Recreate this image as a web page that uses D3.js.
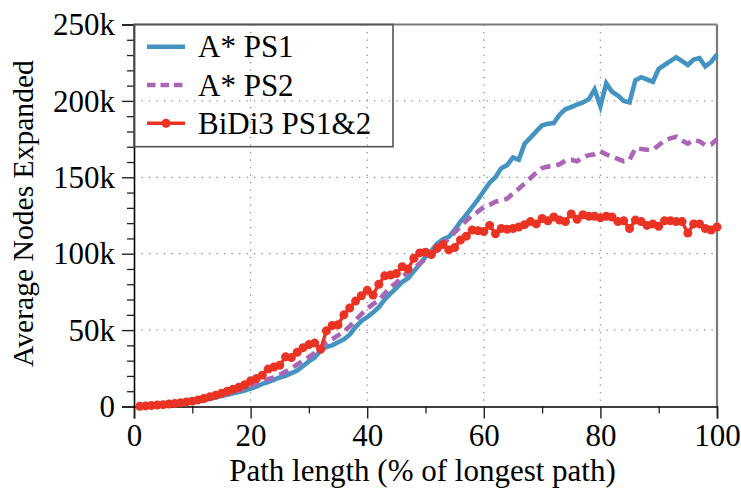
<!DOCTYPE html>
<html><head><meta charset="utf-8">
<script src="https://cdn.jsdelivr.net/npm/d3@7"></script>
<style>
html,body{margin:0;padding:0;background:#fff;}
svg text{font-family:"Liberation Serif","Times New Roman",serif;fill:#000;}
</style></head>
<body><svg id="chart" width="741" height="489"></svg>
<script>
const xValues = d3.range(1, 101);
const seriesNames = ["A* PS1", "A* PS2", "BiDi3 PS1&2"];
const astarPS1 = [0.1,0.2,0.4,0.6,0.9,1.2,1.6,2.0,2.5,3.0,3.6,4.3,5.1,5.9,6.8,7.7,8.6,9.5,10.5,11.8,
13.0,14.8,16.0,17.5,19.0,20.0,21.8,23.5,26.5,29.5,32.0,36.5,39.0,40.0,42.0,44.0,47.0,52.0,56.0,58.5,
61.5,65.0,70.0,74.0,77.5,81.5,84.0,88.5,93.0,98.0,102.0,106.5,109.5,111.0,115.5,121.0,125.5,130.5,135.5,141.0,
146.5,150.0,156.0,158.0,163.0,161.5,172.0,176.0,180.0,184.0,185.0,185.5,191.0,194.5,196.0,197.5,199.0,201.0,207.5,196.5,
211.5,206.0,203.5,200.0,199.0,213.5,215.5,214.0,212.5,221.0,223.5,226.0,228.5,226.0,223.5,227.0,228.0,222.5,225.5,230.5];
const astarPS2 = [0.1,0.2,0.4,0.6,0.9,1.2,1.6,2.0,2.6,3.2,3.9,4.7,5.6,6.5,7.5,8.5,9.6,10.8,12.2,13.8,
15.2,16.5,17.8,19.0,20.8,22.8,25.0,27.5,30.0,32.5,35.0,38.5,42.0,44.0,46.5,49.0,52.5,56.5,60.5,64.0,
67.0,69.5,74.0,78.0,81.0,84.5,88.0,90.5,93.5,96.5,98.5,103.0,106.5,110.0,114.0,118.0,121.5,125.0,127.5,130.5,
132.0,134.0,135.0,136.0,139.5,142.5,146.0,149.5,153.0,156.0,157.0,157.5,158.5,161.0,161.5,160.5,163.0,164.5,165.0,167.0,
165.0,163.5,162.0,160.5,161.5,169.0,168.5,168.0,168.0,171.0,174.0,175.5,176.5,174.0,172.0,174.5,173.5,171.0,171.5,175.0];
const bidi3 = [0.2,0.4,0.6,0.9,1.2,1.6,2.0,2.5,3.0,3.5,4.3,5.2,6.3,7.4,8.6,10.0,11.3,12.6,14.2,16.8,
18.3,20.5,24.5,25.8,27.0,32.5,32.0,35.5,38.5,40.5,41.5,37.5,49.5,53.0,53.5,60.0,64.5,69.0,72.5,76.0,
73.0,80.0,85.5,86.0,87.0,91.5,90.0,97.0,100.5,101.0,99.5,103.5,106.0,102.5,104.0,109.0,111.5,115.5,115.0,114.5,
118.5,113.0,116.5,116.0,116.5,117.5,119.0,121.0,119.5,123.0,121.5,124.0,122.0,121.0,126.0,122.5,125.5,124.5,124.5,123.5,
124.5,124.0,121.0,121.5,116.5,122.0,121.0,118.5,119.5,118.0,121.5,121.5,121.0,121.0,113.5,119.5,119.5,116.5,115.5,117.5];
const xTicks = [0, 20, 40, 60, 80, 100];
const yTicks = [0, 50000, 100000, 150000, 200000, 250000];
const yTickLabels = ["0", "50k", "100k", "150k", "200k", "250k"];

const colors = ["#4393c3", "#ab65b6", "#ea3323"];
const svg = d3.select("#chart");
const L = 134, R = 717, T = 24.5, B = 406.5;
const x = d3.scaleLinear().domain([0, 100]).range([L, R]);
const y = d3.scaleLinear().domain([0, 250000]).range([B, T]);
const FS = 31;

// gridlines
const grid = svg.append("g").attr("stroke", "#8a8a8a").attr("stroke-width", 1.3).attr("stroke-dasharray", "1.3,6.2");
xTicks.slice(1, -1).forEach(v => grid.append("line").attr("x1", x(v)).attr("x2", x(v)).attr("y1", T).attr("y2", B));
yTicks.slice(1, -1).forEach(v => grid.append("line").attr("x1", L).attr("x2", R).attr("y1", y(v)).attr("y2", y(v)));

// top and right frame
svg.append("line").attr("x1", L).attr("x2", R).attr("y1", T).attr("y2", T).attr("stroke", "#7a7a7a").attr("stroke-width", 2);
svg.append("line").attr("x1", R).attr("x2", R).attr("y1", T).attr("y2", B).attr("stroke", "#7a7a7a").attr("stroke-width", 2.2);

// minor ticks
const minorX = d3.range(10, 100, 20);
const minorY = d3.range(0, 250001, 10000).filter(v => v % 50000 !== 0);
const xAxisMinor = svg.append("g").attr("transform", `translate(0,${B})`)
  .call(d3.axisBottom(x).tickValues(minorX).tickSize(7).tickFormat(""));
const yAxisMinor = svg.append("g").attr("transform", `translate(${L},0)`)
  .call(d3.axisLeft(y).tickValues(minorY).tickSize(7).tickFormat(""));
[xAxisMinor, yAxisMinor].forEach(g => { g.select(".domain").remove(); g.selectAll("line").attr("stroke", "#222").attr("stroke-width", 1.3); });

// major axes
const xAxis = svg.append("g").attr("transform", `translate(0,${B})`)
  .call(d3.axisBottom(x).tickValues(xTicks).tickSize(12).tickPadding(3).tickFormat(d3.format("d")));
const yAxis = svg.append("g").attr("transform", `translate(${L},0)`)
  .call(d3.axisLeft(y).tickValues(yTicks).tickSize(12).tickPadding(7).tickFormat((d, i) => yTickLabels[i]));
[xAxis, yAxis].forEach(g => {
  g.select(".domain").attr("stroke", "#000").attr("stroke-width", 1.6);
  g.selectAll(".tick line").attr("stroke", "#222").attr("stroke-width", 1.4);
  g.selectAll("text").attr("font-size", FS).attr("font-family", "Liberation Serif").attr("fill", "#000");
});
yAxis.selectAll("text").attr("dy", "0.33em");
xAxis.selectAll("text").attr("dy", "0.78em");

// lines
const line = d3.line().x((d, i) => x(xValues[i])).y(d => y(d * 1000));
svg.append("path").datum(astarPS1).attr("d", line).attr("fill", "none")
  .attr("stroke", colors[0]).attr("stroke-width", 4.6).attr("stroke-linejoin", "miter");
svg.append("path").datum(astarPS2).attr("d", line).attr("fill", "none")
  .attr("stroke", colors[1]).attr("stroke-width", 4.6).attr("stroke-dasharray", "10,6");
svg.append("path").datum(bidi3).attr("d", line).attr("fill", "none")
  .attr("stroke", colors[2]).attr("stroke-width", 3.4);
svg.append("g").selectAll("circle").data(bidi3).join("circle")
  .attr("cx", (d, i) => x(xValues[i])).attr("cy", d => y(d * 1000)).attr("r", 4.5).attr("fill", colors[2]);

// legend
const lg = svg.append("g");
lg.append("rect").attr("x", L).attr("y", T).attr("width", 393 - L).attr("height", 146.7 - T)
  .attr("fill", "none").attr("stroke", "#555").attr("stroke-width", 1.6);
const rowsY = [46.7, 85, 123.3];
seriesNames.forEach((name, i) => {
  const ln = lg.append("line").attr("x1", 147).attr("x2", 185).attr("y1", rowsY[i]).attr("y2", rowsY[i])
    .attr("stroke", colors[i]).attr("stroke-width", i === 2 ? 3.4 : 4.6);
  if (i === 1) ln.attr("stroke-dasharray", "8.5,5");
  if (i === 2) lg.append("circle").attr("cx", 166).attr("cy", rowsY[i]).attr("r", 4.5).attr("fill", colors[2]);
  lg.append("text").attr("x", 198).attr("y", rowsY[i] + 10.5).attr("font-size", FS).text(name);
});

// axis titles
svg.append("text").attr("x", (L + R) / 2 - 3).attr("y", 480.5).attr("text-anchor", "middle")
  .attr("font-size", FS).text("Path length (% of longest path)");
svg.append("text").attr("transform", `translate(33,${(T + B) / 2 - 2}) rotate(-90)`).attr("text-anchor", "middle")
  .attr("font-size", 29.6).text("Average Nodes Expanded");
</script></body></html>
